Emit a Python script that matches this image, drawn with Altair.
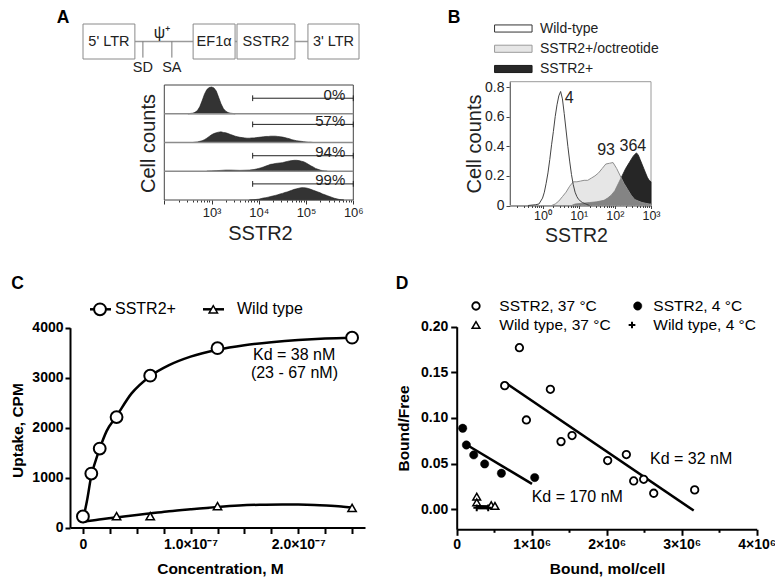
import altair as alt
import pandas as pd

FONT = "Liberation Sans"
W, H = 767, 569


def X(p):  # page pixel -> chart pixel (8px page margin)
    return p - 8


def Y(p):
    return p - 8


# ---------------- Panel A : vector map ----------------
dg_boxes = ["5' LTR", "EF1α", "SSTR2", "3' LTR"]
dg_box_start = [0.0, 39.9, 55.8, 81.5]
dg_box_end = [18.8, 55.1, 76.8, 100.0]
dg_sites = ["SD", "SA"]
dg_site_pos = [21.7, 32.2]
dg_psi_label = "ψ⁺"
dg_psi_pos = 28.6

# ---------------- Panel A : flow histograms ----------------
a_percent = ["0%", "57%", "94%", "99%"]
a_gate_level = [0.54, 0.63, 0.54, 0.56]
a_gate_low_log = 3.87
a_row1_log = [2.50, 2.55, 2.60, 2.65, 2.70, 2.75, 2.80, 2.85, 2.90, 2.95, 3.00, 3.05, 3.10,
              3.15, 3.20, 3.25, 3.30, 3.35, 3.40, 3.45, 3.50]
a_row1_h = [0.0, 0.01, 0.02, 0.05, 0.11, 0.24, 0.45, 0.68, 0.84, 0.91, 0.93, 0.90, 0.79,
            0.57, 0.35, 0.18, 0.09, 0.04, 0.02, 0.01, 0.0]
a_row2_log = [2.60, 2.65, 2.70, 2.75, 2.80, 2.85, 2.90, 2.95, 3.00, 3.05, 3.10, 3.15, 3.20,
              3.25, 3.30, 3.35, 3.40, 3.45, 3.50, 3.55, 3.60, 3.65, 3.70, 3.75, 3.80, 3.85,
              3.90, 3.95, 4.00, 4.05, 4.10, 4.15, 4.20, 4.25, 4.30, 4.35, 4.40, 4.45, 4.50,
              4.55, 4.60, 4.65, 4.70, 4.75, 4.80, 4.85, 4.90, 4.95, 5.00, 5.05, 5.10, 5.15]
a_row2_h = [0.0, 0.01, 0.02, 0.04, 0.06, 0.10, 0.15, 0.21, 0.27, 0.31, 0.34, 0.36, 0.37,
            0.35, 0.34, 0.31, 0.28, 0.25, 0.22, 0.20, 0.18, 0.17, 0.16, 0.15, 0.15, 0.16,
            0.16, 0.17, 0.18, 0.19, 0.20, 0.21, 0.21, 0.22, 0.22, 0.22, 0.21, 0.20, 0.19,
            0.17, 0.15, 0.13, 0.10, 0.08, 0.06, 0.05, 0.04, 0.03, 0.02, 0.01, 0.01, 0.0]
a_row3_log = [2.9, 3.0, 3.1, 3.2, 3.3, 3.4, 3.5, 3.6, 3.7, 3.8, 3.9, 3.95, 4.0, 4.05, 4.1,
              4.15, 4.2, 4.25, 4.3, 4.35, 4.4, 4.45, 4.5, 4.55, 4.6, 4.65, 4.7, 4.75, 4.8,
              4.85, 4.9, 4.95, 5.0, 5.05, 5.1, 5.15, 5.2, 5.25, 5.3, 5.35, 5.4, 5.45]
a_row3_h = [0.0, 0.01, 0.02, 0.03, 0.04, 0.04, 0.035, 0.03, 0.035, 0.04, 0.06, 0.08, 0.10,
            0.12, 0.15, 0.18, 0.21, 0.24, 0.25, 0.27, 0.28, 0.29, 0.30, 0.32, 0.34, 0.36,
            0.37, 0.38, 0.38, 0.37, 0.35, 0.33, 0.29, 0.24, 0.19, 0.15, 0.10, 0.07, 0.04,
            0.02, 0.01, 0.0]
a_row4_log = [3.8, 3.9, 4.0, 4.05, 4.1, 4.15, 4.2, 4.25, 4.3, 4.35, 4.4, 4.45, 4.5, 4.55,
              4.6, 4.65, 4.7, 4.75, 4.8, 4.85, 4.9, 4.95, 5.0, 5.05, 5.1, 5.15, 5.2, 5.25,
              5.3, 5.35, 5.4, 5.45, 5.5, 5.55, 5.6, 5.65, 5.7, 5.75, 5.8]
a_row4_h = [0.0, 0.01, 0.03, 0.05, 0.07, 0.08, 0.10, 0.12, 0.14, 0.16, 0.18, 0.21, 0.23,
            0.26, 0.28, 0.31, 0.34, 0.37, 0.39, 0.41, 0.43, 0.43, 0.42, 0.40, 0.37, 0.34,
            0.31, 0.28, 0.25, 0.21, 0.18, 0.15, 0.12, 0.09, 0.06, 0.04, 0.02, 0.01, 0.0]

# ---------------- Panel B : overlay histograms ----------------
b_series = ["Wild-type", "SSTR2+/octreotide", "SSTR2+"]
b_fill = ["#ffffff", "#e6e6e6", "#282828"]
b_stroke = ["#333333", "#9a9a9a", "#1a1a1a"]
b_wt_log = [-0.4, -0.2, -0.1, 0.0, 0.05, 0.1, 0.15, 0.2, 0.25, 0.3, 0.35, 0.4, 0.45, 0.5,
            0.55, 0.6, 0.65, 0.7, 0.75, 0.8, 0.85, 0.9, 0.95, 1.0, 1.1, 1.2, 1.3]
b_wt_y = [0.0, 0.005, 0.01, 0.05, 0.09, 0.15, 0.22, 0.31, 0.41, 0.50, 0.60, 0.68, 0.74,
          0.77, 0.72, 0.62, 0.51, 0.40, 0.30, 0.21, 0.14, 0.09, 0.06, 0.04, 0.02, 0.01, 0.0]
b_oct_log = [0.25, 0.35, 0.45, 0.55, 0.65, 0.75, 0.85, 0.95, 1.05, 1.15, 1.25, 1.35, 1.45,
             1.55, 1.65, 1.75, 1.85, 1.95, 2.05, 2.15, 2.25, 2.35, 2.45, 2.55, 2.65, 2.75,
             2.85, 2.95, 3.0]
b_oct_y = [0.0, 0.01, 0.03, 0.06, 0.09, 0.13, 0.16, 0.16, 0.165, 0.17, 0.17, 0.185, 0.2,
           0.22, 0.25, 0.28, 0.285, 0.29, 0.25, 0.2, 0.15, 0.11, 0.07, 0.04, 0.03, 0.02,
           0.015, 0.01, 0.01]
b_pos_log = [0.8, 0.9, 1.1, 1.3, 1.5, 1.7, 1.8, 1.9, 2.0, 2.1, 2.2, 2.3, 2.4, 2.5, 2.55,
             2.6, 2.65, 2.7, 2.75, 2.8, 2.85, 2.9, 2.95, 3.0]
b_pos_y = [0.0, 0.01, 0.015, 0.02, 0.025, 0.035, 0.05, 0.07, 0.10, 0.15, 0.20, 0.25, 0.29,
           0.33, 0.345, 0.355, 0.34, 0.31, 0.28, 0.25, 0.22, 0.19, 0.17, 0.16]
b_peak_label = ["4", "93", "364"]
b_peak_x = [5.5, 57, 316]
b_peak_y = [0.728, 0.375, 0.402]

# ---------------- Panel C : saturation binding ----------------
c_series = ["SSTR2+", "Wild type"]
c_conc_nM = [0, 7.8, 15.6, 31.25, 62.5, 125, 250]
c_sstr2_cpm = [220, 1080, 1580, 2210, 3040, 3590, 3800]
c_wt_conc_nM = [31.25, 62.5, 125, 250]
c_wt_cpm = [226, 226, 426, 392]
c_fit_conc_nM = [0, 4, 7.8, 12, 15.6, 22, 31.25, 45, 62.5, 80, 100, 125, 150, 175, 200, 225, 250]
c_fit_cpm = [150, 560, 1040, 1350, 1580, 1930, 2230, 2680, 3030, 3250, 3420, 3560, 3650,
             3710, 3755, 3785, 3800]
c_wtfit_conc_nM = [0, 15, 31, 46, 62, 80, 100, 125, 145, 164, 185, 200, 215, 226, 240, 250]
c_wtfit_cpm = [112, 160, 200, 242, 280, 325, 366, 412, 440, 455, 462, 460, 452, 440, 420, 400]
c_note = ["Kd = 38 nM", "(23 - 67 nM)"]
c_note_x = [1.58e-7, 1.56e-7]
c_note_y = [3450, 3084]

# ---------------- Panel D : Scatchard ----------------
d_series = ["SSTR2, 37 °C", "SSTR2, 4 °C", "Wild type, 37 °C", "Wild type, 4 °C"]
d_s37_bound = [0.64e6, 0.836e6, 0.929e6, 1.249e6, 1.391e6, 1.538e6, 2.013e6, 2.262e6,
               2.36e6, 2.493e6, 2.627e6, 3.173e6]
d_s37_bf = [0.1354, 0.177, 0.0978, 0.1314, 0.0741, 0.0807, 0.0533, 0.0599, 0.031, 0.0328,
            0.0175, 0.0212]
d_s4_bound = [0.08e6, 0.129e6, 0.227e6, 0.373e6, 0.596e6, 1.04e6]
d_s4_bf = [0.0887, 0.0704, 0.0595, 0.0496, 0.0394, 0.0347]
d_w37_bound = [0.267e6, 0.267e6, 0.46e6, 0.51e6]
d_w37_bf = [0.0138, 0.0075, 0.0045, 0.0036]
d_w4_bound = [0.267e6, 0.42e6]
d_w4_bf = [0.0015, 0.0015]
d_fit_s37_bound = [0.662e6, 3.16e6]
d_fit_s37_bf = [0.138, -0.0015]
d_fit_s4_bound = [0.138e6, 1.004e6]
d_fit_s4_bf = [0.0704, 0.0277]
d_fit_w37_bound = [0.267e6, 0.51e6]
d_fit_w37_bf = [0.0032, 0.0030]
d_fit_w4_bound = [0.26e6, 0.42e6]
d_fit_w4_bf = [0.0012, 0.0012]
d_note = ["Kd = 32 nM", "Kd = 170 nM"]
d_note_x = [2.577e6, 1.0e6]
d_note_y = [0.0548, 0.0138]

PLUS = "M-1,0H1M0,-1V1"
layers = []

# =============== Panel A diagram ===============
dgx = alt.Scale(domain=[0, 100], range=[X(83), X(359)])
dgy = alt.Scale(domain=[0, 10], range=[Y(59), Y(24)])
dg_box_df = pd.DataFrame({"label": dg_boxes, "x0": dg_box_start, "x1": dg_box_end})
dg_box_df["xm"] = (dg_box_df["x0"] + dg_box_df["x1"]) / 2
dg_box_df["y0"] = 0
dg_box_df["y1"] = 10
dg_box_df["ym"] = 5
layers.append(alt.Chart(pd.DataFrame({"x0": [dg_box_end[0]], "x1": [dg_box_start[3]], "y": [5]})).mark_rule(
    color="#9a9a9a", strokeWidth=1.5).encode(
    x=alt.X("x0:Q", scale=dgx, axis=None), x2="x1:Q", y=alt.Y("y:Q", scale=dgy, axis=None)))
layers.append(alt.Chart(dg_box_df).mark_rect(fill="white", stroke="#8a8a8a", strokeWidth=1).encode(
    x=alt.X("x0:Q", scale=dgx, axis=None), x2="x1:Q",
    y=alt.Y("y0:Q", scale=dgy, axis=None), y2="y1:Q"))
layers.append(alt.Chart(dg_box_df).mark_text(fontSize=14.5, color="#222").encode(
    x=alt.X("xm:Q", scale=dgx, axis=None), y=alt.Y("ym:Q", scale=dgy, axis=None), text="label:N"))
site_df = pd.DataFrame({"label": dg_sites, "x": dg_site_pos})
site_df["ytop"] = 5
site_df["ybot"] = 0.4
site_df["ylab"] = -2.7
layers.append(alt.Chart(site_df).mark_rule(color="#777", strokeWidth=1).encode(
    x=alt.X("x:Q", scale=dgx, axis=None), y=alt.Y("ytop:Q", scale=dgy, axis=None), y2="ybot:Q"))
layers.append(alt.Chart(site_df).mark_text(fontSize=14.5, color="#222").encode(
    x=alt.X("x:Q", scale=dgx, axis=None), y=alt.Y("ylab:Q", scale=dgy, axis=None), text="label:N"))
layers.append(alt.Chart(pd.DataFrame({"t": [dg_psi_label], "x": [dg_psi_pos], "y": [7.5]})).mark_text(
    fontSize=16, color="#222").encode(
    x=alt.X("x:Q", scale=dgx, axis=None), y=alt.Y("y:Q", scale=dgy, axis=None), text="t:N"))

# =============== Panel A histograms ===============
ax_scale = alt.Scale(type="log", domain=[100, 1e6], range=[X(164.3), X(353.3)])
ay_scale = alt.Scale(domain=[0, 4], range=[Y(200), Y(85)])
a_rows = []
for i, (lx, hh) in enumerate(zip([a_row1_log, a_row2_log, a_row3_log, a_row4_log],
                                 [a_row1_h, a_row2_h, a_row3_h, a_row4_h])):
    base = 3 - i
    for l, h in zip(lx, hh):
        a_rows.append({"row": i, "x": 10 ** l, "base": base, "top": base + h})
a_df = pd.DataFrame(a_rows)

a_ticks = [k * 10 ** d for d in range(2, 6) for k in range(1, 10)] + [10 ** 6]
a_xaxis = alt.Axis(
    orient="bottom", offset=Y(200) - H, values=a_ticks, domain=False,
    labelExpr="datum.value == 1000 ? '10³' : datum.value == 10000 ? '10⁴' : datum.value == 100000 ? '10⁵' : datum.value == 1000000 ? '10⁶' : ''",
    tickSize={"condition": {"test": "indexof([100,1000,10000,100000,1000000], datum.value) >= 0", "value": 4}, "value": 2},
    tickColor="#333", tickWidth=1, labelFontSize=13, labelColor="#222", labelPadding=2,
    labelFlush=False, labelOverlap=False, labelBound=False,
    title="SSTR2", titleFontSize=20, titleFontWeight="normal", titleColor="#222",
    titleX=X(260), titleY=233 - 200, titleAlign="center", titleBaseline="middle")
a_yaxis = alt.Axis(
    orient="left", offset=-X(164.3), domain=False, ticks=False, labels=False,
    title="Cell counts", titleFontSize=20, titleFontWeight="normal", titleColor="#222",
    titleX=148 - 164.3, titleY=Y(143), titleAngle=270, titleAlign="center", titleBaseline="middle")

layers.append(alt.Chart(a_df).mark_area(fill="#333333", stroke="#1a1a1a", strokeWidth=0.6).encode(
    x=alt.X("x:Q", scale=ax_scale, axis=a_xaxis),
    y=alt.Y("top:Q", scale=ay_scale, axis=a_yaxis), y2="base:Q", detail="row:N"))
layers.append(alt.Chart(pd.DataFrame({"x0": [100], "x1": [1e6], "y0": [0], "y1": [4]})).mark_rect(
    fillOpacity=0, stroke="#444", strokeWidth=1).encode(
    x=alt.X("x0:Q", scale=ax_scale, axis=None), x2="x1:Q",
    y=alt.Y("y0:Q", scale=ay_scale, axis=None), y2="y1:Q"))
layers.append(alt.Chart(pd.DataFrame({"y": [1, 2, 3], "x0": [100] * 3, "x1": [1e6] * 3})).mark_rule(
    color="#8c8c8c", strokeWidth=1.5).encode(
    x=alt.X("x0:Q", scale=ax_scale, axis=None), x2="x1:Q", y=alt.Y("y:Q", scale=ay_scale, axis=None)))
gate_y = [3 - i + g for i, g in enumerate(a_gate_level)]
a_gate_df = pd.DataFrame({"label": a_percent, "y": gate_y})
a_gate_df["x0"] = 10 ** a_gate_low_log
a_gate_df["x1"] = 1e6
a_gate_df["xt"] = 10 ** 5.83
a_gate_df["ylo"] = a_gate_df["y"] - 0.1
a_gate_df["yhi"] = a_gate_df["y"] + 0.1
layers.append(alt.Chart(a_gate_df).mark_rule(color="#222", strokeWidth=1).encode(
    x=alt.X("x0:Q", scale=ax_scale, axis=None), x2="x1:Q", y=alt.Y("y:Q", scale=ay_scale, axis=None)))
layers.append(alt.Chart(a_gate_df).mark_rule(color="#222", strokeWidth=1).encode(
    x=alt.X("x0:Q", scale=ax_scale, axis=None), y=alt.Y("ylo:Q", scale=ay_scale, axis=None), y2="yhi:Q"))
layers.append(alt.Chart(a_gate_df).mark_rule(color="#222", strokeWidth=1).encode(
    x=alt.X("x1:Q", scale=ax_scale, axis=None), y=alt.Y("ylo:Q", scale=ay_scale, axis=None), y2="yhi:Q"))
layers.append(alt.Chart(a_gate_df).mark_text(align="right", baseline="alphabetic", dy=1.5,
                                             fontSize=15, color="#222").encode(
    x=alt.X("xt:Q", scale=ax_scale, axis=None), y=alt.Y("y:Q", scale=ay_scale, axis=None), text="label:N"))

# =============== Panel B ===============
bx_scale = alt.Scale(type="log", domain=[10 ** -0.9, 1000], range=[X(510), X(651)])
by_scale = alt.Scale(domain=[0, 0.836], range=[Y(205.5), Y(81.7)])
b_ticks = [k * 10 ** d for d in range(-1, 3) for k in range(1, 10) if k * 10 ** d > 0.13] + [1000]
b_xaxis = alt.Axis(
    orient="bottom", offset=Y(205.5) - H, values=b_ticks, domainColor="#444", domainWidth=1,
    labelExpr="datum.value == 1 ? '10⁰' : datum.value == 10 ? '10¹' : datum.value == 100 ? '10²' : datum.value == 1000 ? '10³' : ''",
    tickSize={"condition": {"test": "indexof([1,10,100,1000], datum.value) >= 0", "value": 3}, "value": 2},
    tickColor="#444", tickWidth=1, labelFontSize=12.5, labelColor="#222", labelPadding=1,
    labelFlush=False, labelOverlap=False, labelBound=False,
    title="SSTR2", titleFontSize=19.5, titleFontWeight="normal", titleColor="#222",
    titleX=X(576), titleY=235 - 205.5, titleAlign="center", titleBaseline="middle")
b_yaxis = alt.Axis(
    orient="left", offset=-X(510), values=[0, 0.2, 0.4, 0.6, 0.8], domainColor="#444", domainWidth=1,
    labelExpr="datum.value == 0 ? '0' : format(datum.value, '.1f')",
    tickSize=4, tickColor="#444", labelFontSize=14, labelColor="#222", labelPadding=2,
    labelFlush=False, labelOverlap=False,
    title="Cell counts", titleFontSize=20, titleFontWeight="normal", titleColor="#222",
    titleX=474 - 510, titleY=Y(143.5), titleAngle=270, titleAlign="center", titleBaseline="middle")
b_pos_df = pd.DataFrame({"x": [10 ** v for v in b_pos_log], "y": b_pos_y})
b_oct_df = pd.DataFrame({"x": [10 ** v for v in b_oct_log], "y": b_oct_y})
b_wt_df = pd.DataFrame({"x": [10 ** v for v in b_wt_log], "y": b_wt_y})
layers.append(alt.Chart(pd.DataFrame({"x0": [10 ** -0.9], "x1": [1000], "y0": [0], "y1": [0.836]})).mark_rect(
    fillOpacity=0, stroke="#9a9a9a", strokeWidth=1).encode(
    x=alt.X("x0:Q", scale=bx_scale, axis=b_xaxis), x2="x1:Q",
    y=alt.Y("y0:Q", scale=by_scale, axis=b_yaxis), y2="y1:Q"))
layers.append(alt.Chart(b_pos_df).mark_area(fill="#262626", stroke="#1a1a1a", strokeWidth=0.8).encode(
    x=alt.X("x:Q", scale=bx_scale, axis=None), y=alt.Y("y:Q", scale=by_scale, axis=None)))
layers.append(alt.Chart(b_oct_df).mark_area(fill="#d2d2d2", fillOpacity=0.55, stroke="#8f8f8f",
                                            strokeWidth=1).encode(
    x=alt.X("x:Q", scale=bx_scale, axis=None), y=alt.Y("y:Q", scale=by_scale, axis=None)))
layers.append(alt.Chart(b_wt_df).mark_line(color="#444", strokeWidth=1).encode(
    x=alt.X("x:Q", scale=bx_scale, axis=None), y=alt.Y("y:Q", scale=by_scale, axis=None)))
layers.append(alt.Chart(pd.DataFrame({"t": b_peak_label, "x": b_peak_x, "y": b_peak_y})).mark_text(
    fontSize=16, color="#222").encode(
    x=alt.X("x:Q", scale=bx_scale, axis=None), y=alt.Y("y:Q", scale=by_scale, axis=None), text="t:N"))

b_leg_df = pd.DataFrame({"series": b_series, "idx": [0, 1, 2]})
bly = alt.Scale(domain=[0, 2], range=[Y(28.5), Y(69)])
layers.append(alt.Chart(b_leg_df).mark_point(shape="M-1,-0.19H1V0.19H-1Z", size=1406, filled=True,
                                             opacity=1, strokeWidth=1).encode(
    x=alt.value(X(513.3)), y=alt.Y("idx:Q", scale=bly, axis=None),
    fill=alt.Fill("series:N", scale=alt.Scale(domain=b_series, range=b_fill), legend=None),
    stroke=alt.Stroke("series:N", scale=alt.Scale(domain=b_series, range=b_stroke), legend=None)))
layers.append(alt.Chart(b_leg_df).mark_text(align="left", baseline="middle", fontSize=14, color="#222").encode(
    x=alt.value(X(540)), y=alt.Y("idx:Q", scale=bly, axis=None), text="series:N"))

# =============== Panel C ===============
cx_scale = alt.Scale(domain=[-1.2e-8, 2.62e-7], range=[X(70), X(365)])
cy_scale = alt.Scale(domain=[0, 4000], range=[Y(527.5), Y(327.7)])
bold_axis = dict(domainColor="black", domainWidth=2, tickColor="black", tickWidth=2,
                 labelColor="black", labelFontSize=14, labelFontWeight="bold",
                 titleColor="black", titleFontSize=15.5, titleFontWeight="bold",
                 labelFlush=False, labelOverlap=False, labelBound=False)
c_xaxis = alt.Axis(
    orient="bottom", offset=Y(527.5) - H, values=[i * 0.25e-7 for i in range(11)],
    labelExpr="abs(datum.value) < 1e-12 ? '0' : abs(datum.value - 1e-7) < 1e-12 ? '1.0×10⁻⁷' : abs(datum.value - 2e-7) < 1e-12 ? '2.0×10⁻⁷' : ''",
    tickSize=6, labelPadding=4, title="Concentration, M",
    titleX=X(220), titleY=568 - 527.5, titleAlign="center", titleBaseline="middle", **bold_axis)
c_yaxis = alt.Axis(
    orient="left", offset=-X(70), values=[0, 1000, 2000, 3000, 4000], format="d",
    tickSize=5, labelPadding=2, title="Uptake, CPM",
    titleX=17 - 70, titleY=Y(430), titleAngle=270, titleAlign="center", titleBaseline="middle",
    **bold_axis)
c_fit_df = pd.DataFrame({"x": [v * 1e-9 for v in c_fit_conc_nM], "y": c_fit_cpm})
c_wtfit_df = pd.DataFrame({"x": [v * 1e-9 for v in c_wtfit_conc_nM], "y": c_wtfit_cpm})
c_pts_df = pd.DataFrame({"x": [v * 1e-9 for v in c_conc_nM], "y": c_sstr2_cpm})
c_wtpts_df = pd.DataFrame({"x": [v * 1e-9 for v in c_wt_conc_nM], "y": c_wt_cpm})
layers.append(alt.Chart(c_wtfit_df).mark_line(color="black", strokeWidth=2.5, interpolate="monotone").encode(
    x=alt.X("x:Q", scale=cx_scale, axis=c_xaxis), y=alt.Y("y:Q", scale=cy_scale, axis=c_yaxis)))
layers.append(alt.Chart(c_fit_df).mark_line(color="black", strokeWidth=2.5, interpolate="monotone").encode(
    x=alt.X("x:Q", scale=cx_scale, axis=None), y=alt.Y("y:Q", scale=cy_scale, axis=None)))
layers.append(alt.Chart(c_pts_df).mark_point(shape="circle", size=140, filled=True, fill="white",
                                             stroke="black", strokeWidth=2, opacity=1).encode(
    x=alt.X("x:Q", scale=cx_scale, axis=None), y=alt.Y("y:Q", scale=cy_scale, axis=None)))
layers.append(alt.Chart(c_wtpts_df).mark_point(shape="triangle-up", size=70, filled=True, fill="white",
                                               stroke="black", strokeWidth=1.5, opacity=1).encode(
    x=alt.X("x:Q", scale=cx_scale, axis=None), y=alt.Y("y:Q", scale=cy_scale, axis=None)))
layers.append(alt.Chart(pd.DataFrame({"t": c_note, "x": c_note_x, "y": c_note_y})).mark_text(
    align="left", baseline="middle", fontSize=16, color="black").encode(
    x=alt.X("x:Q", scale=cx_scale, axis=None), y=alt.Y("y:Q", scale=cy_scale, axis=None), text="t:N"))

one = pd.DataFrame({"k": [0]})


def leg_text(label, x, y, size=16):
    return alt.Chart(pd.DataFrame({"t": [label]})).mark_text(
        align="left", baseline="middle", fontSize=size, color="black").encode(
        x=alt.value(x), y=alt.value(y), text="t:N")


def leg_symbol(shape, x, y, size, fill="white", sw=2.0):
    return alt.Chart(one).mark_point(shape=shape, size=size, filled=True, fill=fill,
                                     stroke="black", strokeWidth=sw, opacity=1).encode(
        x=alt.value(x), y=alt.value(y))


def leg_line(x0, x1, y):
    return alt.Chart(one).mark_rule(color="black", strokeWidth=2.5).encode(
        x=alt.value(x0), x2=alt.value(x1), y=alt.value(y))


layers += [
    leg_line(X(90), X(111), Y(309.3)), leg_symbol("circle", X(100), Y(309.3), 140),
    leg_text(c_series[0], X(115), Y(309.3)),
    leg_line(X(203), X(224), Y(309.3)), leg_symbol("triangle-up", X(213.3), Y(309.3), 70, sw=1.5),
    leg_text(c_series[1], X(237), Y(309.3)),
]

# =============== Panel D ===============
dx_scale = alt.Scale(domain=[0, 4e6], range=[X(456.7), X(756.7)])
dy_scale = alt.Scale(domain=[-0.022, 0.20], range=[Y(529.3), Y(326.7)])
d_xaxis = alt.Axis(
    orient="bottom", offset=Y(529.3) - H, values=[i * 0.5e6 for i in range(9)],
    labelExpr="datum.value == 0 ? '0' : (datum.value % 1000000 == 0 ? (datum.value / 1000000) + '×10⁶' : '')",
    tickSize={"condition": {"test": "datum.value % 1000000 == 0", "value": 6}, "value": 3},
    labelPadding=2, title="Bound, mol/cell",
    titleX=X(607), titleY=568 - 529.3, titleAlign="center", titleBaseline="middle", **bold_axis)
d_yaxis = alt.Axis(
    orient="left", offset=-X(456.7), values=[0, 0.05, 0.10, 0.15, 0.20], format=".2f",
    tickSize=6, labelPadding=3, title="Bound/Free",
    titleX=403 - 456.7, titleY=Y(428), titleAngle=270, titleAlign="center", titleBaseline="middle",
    **bold_axis)


def dline(xs, ys, first=False):
    return alt.Chart(pd.DataFrame({"x": xs, "y": ys})).mark_line(color="black", strokeWidth=2.5).encode(
        x=alt.X("x:Q", scale=dx_scale, axis=d_xaxis if first else None),
        y=alt.Y("y:Q", scale=dy_scale, axis=d_yaxis if first else None))


def dpts(xs, ys, shape, size, fill, sw):
    return alt.Chart(pd.DataFrame({"x": xs, "y": ys})).mark_point(
        shape=shape, size=size, filled=True, fill=fill, stroke="black", strokeWidth=sw, opacity=1).encode(
        x=alt.X("x:Q", scale=dx_scale, axis=None), y=alt.Y("y:Q", scale=dy_scale, axis=None))


layers += [
    dline(d_fit_s37_bound, d_fit_s37_bf, first=True),
    dline(d_fit_s4_bound, d_fit_s4_bf),
    dline(d_fit_w37_bound, d_fit_w37_bf),
    dline(d_fit_w4_bound, d_fit_w4_bf),
    dpts(d_s37_bound, d_s37_bf, "circle", 56, "white", 1.8),
    dpts(d_s4_bound, d_s4_bf, "circle", 69, "black", 0.5),
    dpts(d_w37_bound, d_w37_bf, "triangle-up", 60, "white", 1.5),
    dpts(d_w4_bound, d_w4_bf, PLUS, 45, "none", 2),
    alt.Chart(pd.DataFrame({"t": d_note, "x": d_note_x, "y": d_note_y})).mark_text(
        align="left", baseline="middle", fontSize=16, color="black").encode(
        x=alt.X("x:Q", scale=dx_scale, axis=None), y=alt.Y("y:Q", scale=dy_scale, axis=None), text="t:N"),
]

layers += [
    leg_symbol("circle", X(476), Y(306), 56, sw=1.8), leg_text(d_series[0], X(499.3), Y(306), 15.5),
    leg_symbol("circle", X(637.7), Y(306), 69, fill="black", sw=0.5),
    leg_text(d_series[1], X(653.3), Y(306), 15.5),
    leg_symbol("triangle-up", X(476), Y(325), 60, sw=1.5), leg_text(d_series[2], X(499.3), Y(325), 15.5),
    leg_symbol(PLUS, X(632), Y(325), 45, fill="none", sw=2), leg_text(d_series[3], X(653.3), Y(325), 15.5),
]


def letter(t, x, y):
    return alt.Chart(pd.DataFrame({"t": [t]})).mark_text(
        fontSize=17.5, fontWeight="bold", color="black", align="center", baseline="alphabetic").encode(
        x=alt.value(x), y=alt.value(y), text="t:N")


layers += [letter("A", X(63), Y(22.5)), letter("B", X(454), Y(22.5)),
           letter("C", X(17.5), Y(288.5)), letter("D", X(402), Y(288.5))]

chart = alt.layer(*layers).resolve_scale(
    x="independent", y="independent", fill="independent", stroke="independent"
).properties(
    width=W, height=H, padding=0, autosize=alt.AutoSizeParams(type="none")
).configure(font=FONT).configure_view(stroke=None).configure_axis(
    grid=False, labelFont=FONT, titleFont=FONT)

chart.save("out.html", embed_options={"renderer": "svg", "actions": False})
